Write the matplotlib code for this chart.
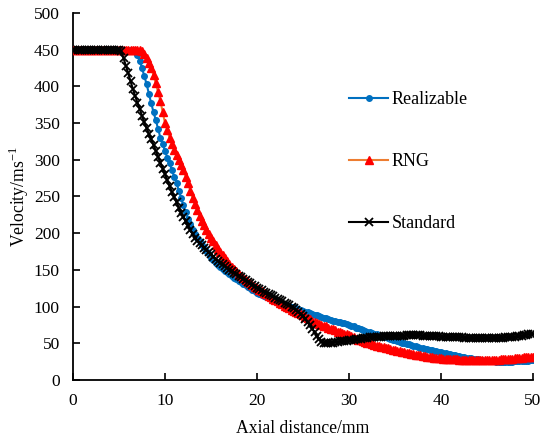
import matplotlib
matplotlib.use("Agg")
import matplotlib.pyplot as plt
import numpy as np

plt.rcParams['font.family'] = ['Liberation Serif', 'DejaVu Serif']
plt.rcParams['mathtext.fontset'] = 'custom'
plt.rcParams['mathtext.rm'] = 'Liberation Serif'

# samples every 0.25 mm from 0 to 50 mm (each row = one mm)
realizable = [
    450, 450, 450, 450,  450, 450, 450, 450,  450, 450, 450, 450,   # 0-2
    450, 450, 450, 450,  450, 450, 450, 450,  450, 450, 450, 450,   # 3-5
    450, 450, 450, 449,                                             # 6
    443, 435, 425, 414,  403, 390, 377, 365,  354, 342, 330, 321,   # 7-9
    312, 303, 295, 286,  277, 268, 258, 248,  238, 229, 220, 212,   # 10-12
    205, 199, 194, 189,  184, 180, 176, 171,  166, 163, 160, 157,   # 13-15
    154, 151.5, 149, 146.5,  144, 141.5, 139, 137,  135, 133, 131, 129,  # 16-18
    127, 125, 123, 121,  119, 117.5, 116, 114.5,  113, 111.5, 110, 108.5,  # 19-21
    107, 106, 105, 104,  103, 102, 101, 100,  99, 98, 97, 95.5,     # 22-24
    94, 93, 92, 91,  90, 89, 88, 87,  86, 85, 84, 83,               # 25-27
    82, 81, 80.5, 79.5,  79, 78, 77, 76,  75, 74, 73, 71.5,         # 28-30
    70.5, 69, 68, 67,  66, 65, 64, 63,  62, 61, 60, 59,             # 31-33
    58, 57, 56, 55,  54, 53, 52, 51,  50, 49, 48.5, 47.5,           # 34-36
    47, 46, 45, 44,  43.5, 42.5, 42, 41,  40.5, 39.5, 39, 38,       # 37-39
    37.5, 37, 36.5, 36,  35.5, 34.5, 34, 33,  32.5, 31.5, 31, 30.5, # 40-42
    30, 29.5, 29, 28.5,  28, 27.5, 27, 26.5,  26.5, 26, 25.5, 25.5, # 43-45
    25, 25, 25, 25,  25, 25, 25, 25,  25.5, 25.5, 26, 26,           # 46-48
    26, 26.5, 26.5, 27,  27]                                        # 49-50

rng = [
    450, 450, 450, 450,  450, 450, 450, 450,  450, 450, 450, 450,   # 0-2
    450, 450, 450, 450,  450, 450, 450, 450,  450, 450, 450, 450,   # 3-5
    450, 450, 450, 450,  450, 450, 448, 444,                        # 6-7
    438, 432, 425, 415,  404, 392, 380, 365,                        # 8-9
    350, 340, 330, 322,  314, 307, 300, 293,  286, 277, 268, 258,   # 10-12
    248, 240, 231, 224,  217, 211, 205, 199,  194, 189, 184, 179,   # 13-15
    175, 170, 166, 162,  158, 154.5, 151, 148,  145, 142, 139, 136.5,  # 16-18
    134, 131.5, 129, 127,  125, 123, 121, 119,  117, 115, 113, 111,  # 19-21
    109, 107, 105, 103,  101, 99.5, 98, 96,  94, 92.5, 91, 89.5,    # 22-24
    88, 86, 84, 82.5,  81, 79.5, 78, 76.5,  75, 74, 73, 71.5,       # 25-27
    70, 69, 67.5, 66,  65, 64, 63, 62,  61, 59.5, 58, 56.5,         # 28-30
    55, 54, 53, 52,  51, 50, 49, 48,  47, 46, 45.5, 44.5,           # 31-33
    44, 43, 42.5, 41.5,  41, 40, 39.5, 38.5,  38, 37, 36.5, 35.5,   # 34-36
    35, 34.5, 34, 33.5,  33, 32.5, 32, 31.5,  31, 30.5, 30, 30,     # 37-39
    29.5, 29, 29, 28.5,  28.5, 28, 28, 28,  27.5, 27.5, 27.5, 27.5, # 40-42
    27, 27, 27, 27,  27, 27, 27, 27,  27, 27, 27, 27,               # 43-45
    27.5, 27.5, 28, 28,  28.5, 28.5, 29, 29,  29.5, 29.5, 30, 30.5, # 46-48
    31, 31, 31.5, 31.5,  32]                                        # 49-50

standard = [
    450, 450, 450, 450,  450, 450, 450, 450,  450, 450, 450, 450,   # 0-2
    450, 450, 450, 450,  450, 450, 450, 450,                        # 3-4
    450, 448, 438, 428,  418, 407, 397, 387,  378, 369, 360, 351,   # 5-7
    343, 335, 328, 320,  312, 304, 296, 288,                        # 8-9
    280, 272, 264, 256,  249, 242, 235, 228,  222, 216, 210, 204,   # 10-12
    199, 194, 190, 187,  184, 180, 177, 174,  171, 168, 165, 162.5, # 13-15
    160, 157.5, 155, 152.5,  150, 148, 146, 144,  142, 140, 138, 136,  # 16-18
    134, 132, 130, 128,  126, 124, 122, 120.5,  119, 117.5, 116, 114,  # 19-21
    112, 110.5, 109, 107,  105, 103.5, 102, 100,  98, 95.5, 93, 90,  # 22-24
    87, 83, 79, 74.5,  70, 65, 60, 56,  52, 51, 51, 51,             # 25-27
    51, 51, 52, 52,  52.5, 53, 53, 53.5,  54, 54.5, 55, 55.5,       # 28-30
    56, 56.5, 57, 57,  57.5, 58, 58, 58.5,  58.5, 59, 59, 59.5,     # 31-33
    59.5, 60, 60, 60,  60, 60.5, 60.5, 60.5,  60.5, 61, 61, 61,     # 34-36
    61, 61, 61, 61,  60.5, 60.5, 60, 60,  60, 60, 59.5, 59.5,       # 37-39
    59, 59, 59, 59,  58.5, 58.5, 58, 58,  58, 58, 57.5, 57.5,       # 40-42
    57, 57, 57, 57,  57, 57, 57, 57,  57, 57, 57, 57,               # 43-45
    57, 57, 57.5, 57.5,  58, 58, 58.5, 58.5,  59, 59.5, 60, 60.5,   # 46-48
    61, 61.5, 62, 62.5,  63]                                        # 49-50

x_r = np.arange(len(realizable)) * 0.25
x_g = np.arange(len(rng)) * 0.25
x_s = np.arange(len(standard)) * 0.25

fig = plt.figure(figsize=(5.42, 4.43), dpi=100)
ax = fig.add_axes([0.1347, 0.1422, 0.8487, 0.8285])

ax.plot(x_r, realizable, color='#0070C0', lw=1.5, marker='o', ms=4,
        mfc='#0070C0', mec='#0070C0', label='Realizable', zorder=2)
ax.plot(x_g, rng, color='#ED7D31', lw=1.5, marker='^', ms=5.5,
        mfc='#FF0000', mec='#FF0000', label='RNG', zorder=3)
ax.plot(x_s, standard, color='black', lw=1.5, marker='x', ms=5.5,
        mew=1.3, label='Standard', zorder=4)

ax.set_xlim(0, 50)
ax.set_ylim(0, 500)
ax.set_xticks(range(0, 51, 10))
ax.set_yticks(range(0, 501, 50))
for s in ['top', 'right']:
    ax.spines[s].set_visible(False)
for s in ['left', 'bottom']:
    ax.spines[s].set_linewidth(1.3)
ax.tick_params(direction='in', length=5, width=1.2, labelsize=12.5, pad=9.5)

ax.set_xlabel('Axial distance/mm', fontsize=12.7, labelpad=8)
ax.set_ylabel('Velocity/ms$^{-1}$', fontsize=12.7, labelpad=2)

leg = ax.legend(loc='center left', bbox_to_anchor=(0.6, 0.595), frameon=False,
                fontsize=13, labelspacing=2.5, handlelength=2.16,
                handletextpad=0.22, borderpad=0, borderaxespad=0)

fig.savefig('out.png', dpi=100)
